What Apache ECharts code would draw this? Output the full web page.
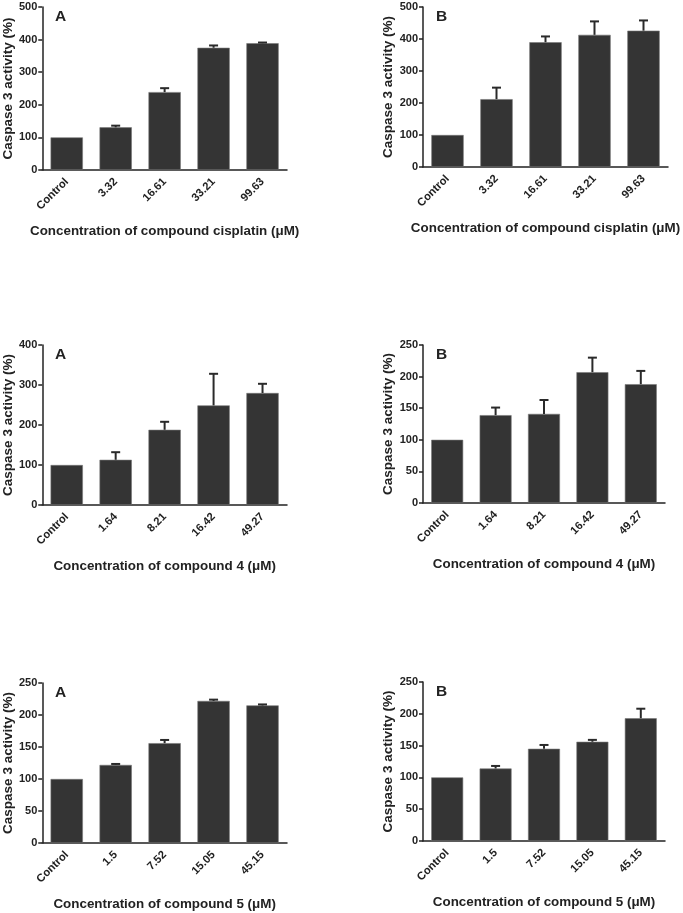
<!DOCTYPE html>
<html>
<head>
<meta charset="utf-8">
<script src="https://cdn.jsdelivr.net/npm/echarts@6/dist/echarts.min.js"></script>
<style>
  html, body { margin: 0; padding: 0; background: #fff; }
  #main { width: 683px; height: 913px; }
</style>
</head>
<body>
<div id="main"></div>
<script>
// categories (concentrations, uM)
const catCisplatin = ['Control', '3.32', '16.61', '33.21', '99.63'];
const cat4 = ['Control', '1.64', '8.21', '16.42', '49.27'];
const cat5 = ['Control', '1.5', '7.52', '15.05', '45.15'];

// caspase 3 activity (%) and error (upper SD)
const cisplatinA = [100, 131, 239, 375, 389];
const cisplatinAErr = [0, 5, 12, 7, 2];
const cisplatinB = [100, 212, 390, 413, 426];
const cisplatinBErr = [0, 36, 18, 42, 32];
const comp4A = [100, 113, 188, 249, 280];
const comp4AErr = [0, 19, 20, 79, 23];
const comp4B = [100, 139, 141, 207, 188];
const comp4BErr = [0, 12, 22, 23, 21];
const comp5A = [100, 122, 156, 222, 215];
const comp5AErr = [0, 1.5, 5, 2, 1.5];
const comp5B = [100, 114, 145, 156, 193];
const comp5BErr = [0, 4, 6, 3, 15];

const panels = [
  { tag: 'A', cats: catCisplatin, vals: cisplatinA, err: cisplatinAErr, max: 500, step: 100, xname: 'Concentration of compound cisplatin (\u03bcM)', left: 42, top: 7, width: 245, height: 163 },
  { tag: 'B', cats: catCisplatin, vals: cisplatinB, err: cisplatinBErr, max: 500, step: 100, xname: 'Concentration of compound cisplatin (\u03bcM)', left: 423, top: 7, width: 245, height: 160 },
  { tag: 'A', cats: cat4, vals: comp4A, err: comp4AErr, max: 400, step: 100, xname: 'Concentration of compound 4 (\u03bcM)', left: 42, top: 345, width: 245, height: 160 },
  { tag: 'B', cats: cat4, vals: comp4B, err: comp4BErr, max: 250, step: 50, xname: 'Concentration of compound 4 (\u03bcM)', left: 423, top: 345, width: 242, height: 158 },
  { tag: 'A', cats: cat5, vals: comp5A, err: comp5AErr, max: 250, step: 50, xname: 'Concentration of compound 5 (\u03bcM)', left: 42, top: 683, width: 245, height: 160 },
  { tag: 'B', cats: cat5, vals: comp5B, err: comp5BErr, max: 250, step: 50, xname: 'Concentration of compound 5 (\u03bcM)', left: 423, top: 682, width: 242, height: 159 }
];

const font = 'Liberation Sans, Arial, sans-serif';
const ink = '#222';

const grid = [], xAxis = [], yAxis = [], series = [], title = [];

panels.forEach(function (p, i) {
  grid.push({ left: p.left, top: p.top, width: p.width, height: p.height });
  xAxis.push({
    type: 'category', gridIndex: i, data: p.cats,
    name: p.xname, nameLocation: 'middle', nameGap: 55,
    nameTextStyle: { fontFamily: font, fontWeight: 'bold', fontSize: 13.4, color: ink },
    axisLine: { lineStyle: { color: ink, width: 1.5 } },
    axisTick: { alignWithLabel: true, length: 5, lineStyle: { color: ink, width: 1.5 } },
    axisLabel: { rotate: 45, margin: 10, fontFamily: font, fontWeight: 'bold', fontSize: 11.2, color: ink }
  });
  yAxis.push({
    type: 'value', gridIndex: i, min: 0, max: p.max, interval: p.step,
    name: 'Caspase 3 activity (%)', nameLocation: 'middle', nameGap: 26,
    nameTextStyle: { fontFamily: font, fontWeight: 'bold', fontSize: 13.5, color: ink },
    splitLine: { show: false },
    axisLine: { show: true, lineStyle: { color: ink, width: 1.5 } },
    axisTick: { show: true, length: 4, lineStyle: { color: ink, width: 1.5 } },
    axisLabel: { margin: 5, fontFamily: font, fontWeight: 'bold', fontSize: 11, color: ink }
  });
  series.push({
    type: 'bar', xAxisIndex: i, yAxisIndex: i, data: p.vals, barWidth: '66%',
    itemStyle: { color: '#343434', borderColor: '#777', borderWidth: 0.6 },
    z: 2
  });
  series.push({
    type: 'custom', xAxisIndex: i, yAxisIndex: i,
    data: p.vals.map(function (v, k) { return [k, v, v + p.err[k]]; }),
    renderItem: function (params, api) {
      if (api.value(2) <= api.value(1)) return null;
      const base = api.coord([api.value(0), api.value(1)]);
      const top = api.coord([api.value(0), api.value(2)]);
      const hw = 4.5;
      const st = { stroke: '#2a2a2a', lineWidth: 2 };
      return {
        type: 'group',
        children: [
          { type: 'line', shape: { x1: base[0], y1: base[1], x2: top[0], y2: top[1] }, style: st },
          { type: 'line', shape: { x1: top[0] - hw, y1: top[1], x2: top[0] + hw, y2: top[1] }, style: st }
        ]
      };
    },
    z: 3
  });
  title.push({
    text: p.tag, left: p.left + 13, top: p.top + 2, padding: 0,
    textStyle: { fontFamily: font, fontWeight: 'bold', fontSize: 15.5, color: ink }
  });
});

const chart = echarts.init(document.getElementById('main'));
chart.setOption({
  animation: false,
  backgroundColor: '#fff',
  title: title,
  grid: grid,
  xAxis: xAxis,
  yAxis: yAxis,
  series: series
});
</script>
</body>
</html>
